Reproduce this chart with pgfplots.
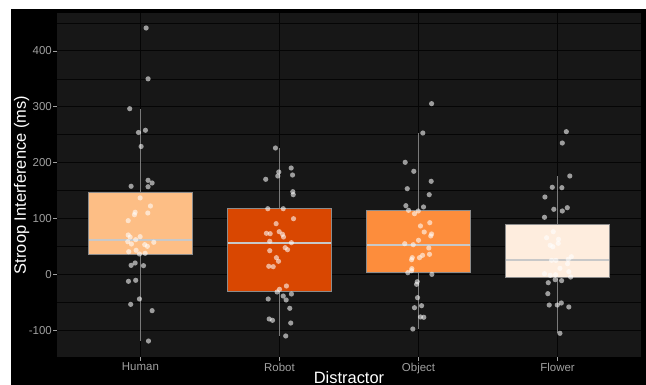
\documentclass[border=0pt]{standalone}
\usepackage{pgfplots}
\pgfplotsset{compat=1.18}
\usepackage{fontspec}
\setmainfont{Liberation Sans}

\definecolor{panelbg}{HTML}{171717}
\definecolor{gridcol}{HTML}{050505}
\definecolor{oHuman}{HTML}{FDBE85}
\definecolor{oRobot}{HTML}{D94701}
\definecolor{oObject}{HTML}{FD8D3C}
\definecolor{oFlower}{HTML}{FEEDDE}
\definecolor{ticktxt}{HTML}{A0A0A0}
\definecolor{boxline}{HTML}{8C8C8C}
\definecolor{medline}{HTML}{C8C8C8}
\definecolor{whisk}{HTML}{7A7A7A}

% jittered observations, one table per distractor
\pgfplotstableread{
x y
1.041 441
1.055 350
0.923 296.6
1.036 258
0.986 254
1.005 229
1.055 168.5
1.084 163.7
0.933 157.8
1.055 157
0.998 137
1.072 122.5
0.962 111.3
0.957 107
1.053 110
0.912 96.3
0.912 70.7
0.926 67
0.998 67.7
0.909 58.7
0.935 54.6
0.966 62.3
1.031 53.4
1.050 50.4
1.096 57.6
0.916 40.8
0.969 43.3
0.993 36.7
1.034 37.9
0.962 20.6
0.933 16.4
1.022 15.8
0.914 -12.2
0.966 -10.4
0.993 -43.8
0.930 -53.4
1.084 -64.7
1.058 -119
}\humanpts
\pgfplotstableread{
x y
1.971 226.3
2.084 190.5
1.995 183.4
1.988 176.2
2.094 178
1.901 170.3
2.096 148.1
2.099 142.8
1.916 117.7
2.027 117.7
2.101 99.8
1.976 90.9
1.906 73.7
1.933 73
1.998 76.6
2.022 71.9
2.029 67.1
1.930 59.4
2.086 56.9
1.930 42.6
2.041 48
2.058 44.4
1.978 30.1
1.993 23.6
1.923 14.7
1.955 14
2.050 -20.6
2.000 -26.5
1.983 -31.3
2.086 -34.9
2.027 -38.5
2.048 -45.6
1.919 -43.8
2.074 -60.5
1.926 -79.6
1.950 -82
2.081 -86.8
2.045 -110
}\robotpts
\pgfplotstableread{
x y
3.094 305.6
3.031 253.1
2.904 200.7
2.966 184.6
3.091 166.7
2.919 153.5
3.077 142.8
2.909 123.1
3.036 120.8
2.928 114.8
2.998 113.6
2.971 108.8
3.081 92.7
3.014 86.8
3.041 76
3.094 72.5
3.088 68.9
3.000 61.2
2.901 55.1
2.962 53.3
3.074 47.4
3.029 34.3
3.007 30.1
2.955 30.1
2.950 26.5
3.079 36.1
2.952 10.4
2.950 6.8
2.923 3.2
3.096 0.3
2.991 -12.9
2.986 -17.6
2.993 -41.5
3.022 -55.8
2.971 -59.4
3.014 -76
3.038 -76.6
2.959 -97.5
}\objectpts
\pgfplotstableread{
x y
4.063 255.5
4.034 235.2
4.088 176.2
3.962 156
4.031 155.3
3.909 138.6
3.973 116.6
4.070 119.5
4.034 113.6
3.906 102.3
3.969 76.6
3.921 65.8
4.007 63
4.005 55.8
3.947 52.2
3.966 49.7
3.957 25.3
3.988 25.3
4.099 31.8
4.077 27.2
4.072 19.3
4.017 11
4.081 5
3.906 1.4
3.947 -1.4
3.986 -0.4
4.094 -4.5
3.983 -9.3
4.029 -11
3.933 -14.7
3.930 -34.3
3.940 -54.6
3.998 -54.6
4.027 -51
4.081 -58.1
4.017 -105.2
}\flowerpts

\pgfplotsset{
  jitterpts/.style={only marks, mark=*, mark size=2.6bp,
    mark options={line width=0pt, draw opacity=0, fill=white, fill opacity=0.58}},
  boxbody/.style={draw=boxline, line width=0.9bp, mark=none},
  whiskerline/.style={draw=whisk, line width=0.9bp, mark=none},
  medianline/.style={draw=medline, line width=1.4bp, mark=none},
}

\begin{document}
\begin{tikzpicture}
\fill[white] (-57bp,-28bp) rectangle (589bp,357bp);
\fill[black] (-46bp,-28bp) rectangle (589bp,348bp);
\useasboundingbox (-57bp,-28bp) rectangle (589bp,357bp);
\begin{axis}[
  at={(0,0)}, anchor=south west,
  scale only axis, width=584bp, height=344bp,
  xmin=0.4, xmax=4.6, ymin=-147.6, ymax=467.8,
  axis background/.style={fill=panelbg},
  axis line style={draw=none},
  xtick={1,2,3,4}, xticklabels={Human,Robot,Object,Flower},
  ytick={-100,0,100,200,300,400}, yticklabels={-100,0,100,200,300,400},
  minor ytick={-50,50,150,250,350,450},
  grid=both,
  major grid style={draw=gridcol, line width=0.9bp},
  minor grid style={draw=gridcol, line width=0.5bp},
  tick align=outside, major tick length=3.5bp,
  minor tick style={draw=none},
  major tick style={draw=ticktxt, line width=0.6bp},
  xtick pos=bottom, ytick pos=left,
  ticklabel style={font=\fontsize{11.5}{13}\selectfont, text=ticktxt},
  yticklabel style={inner sep=1.5bp},
  xticklabel style={inner sep=2bp},
  xlabel={Distractor}, ylabel={Stroop Interference (ms)},
  xlabel style={at={(rel axis cs:0.5,0)}, anchor=base, yshift=-26bp,
    font=\fontsize{16.5}{19}\selectfont, text=white},
  ylabel style={at={(rel axis cs:-0.0531,0.5)}, anchor=base,
    font=\fontsize{16.5}{19}\selectfont, text=white},
]
% whiskers (box edge to extreme non-outlying value)
\addplot[whiskerline] coordinates {(1,147) (1,296.6)};
\addplot[whiskerline] coordinates {(1,36.7) (1,-119)};
\addplot[whiskerline] coordinates {(2,117.7) (2,225.8)};
\addplot[whiskerline] coordinates {(2,-29.5) (2,-109.5)};
\addplot[whiskerline] coordinates {(3,114.2) (3,252.6)};
\addplot[whiskerline] coordinates {(3,3.2) (3,-97.5)};
\addplot[whiskerline] coordinates {(4,89.2) (4,175.6)};
\addplot[whiskerline] coordinates {(4,-5) (4,-105.2)};
% interquartile boxes
\addplot[boxbody, fill=oHuman] coordinates {(0.625,36.7) (1.375,36.7) (1.375,147) (0.625,147)} -- cycle;
\addplot[boxbody, fill=oRobot] coordinates {(1.625,-29.5) (2.375,-29.5) (2.375,117.7) (1.625,117.7)} -- cycle;
\addplot[boxbody, fill=oObject] coordinates {(2.625,3.2) (3.375,3.2) (3.375,114.2) (2.625,114.2)} -- cycle;
\addplot[boxbody, fill=oFlower] coordinates {(3.625,-5) (4.375,-5) (4.375,89.2) (3.625,89.2)} -- cycle;
% medians
\addplot[medianline] coordinates {(0.631,61.7) (1.369,61.7)};
\addplot[medianline] coordinates {(1.631,56.4) (2.369,56.4)};
\addplot[medianline] coordinates {(2.631,52.8) (3.369,52.8)};
\addplot[medianline] coordinates {(3.631,26) (4.369,26)};
% jittered observations
\addplot[jitterpts] table {\humanpts};
\addplot[jitterpts] table {\robotpts};
\addplot[jitterpts] table {\objectpts};
\addplot[jitterpts] table {\flowerpts};
\end{axis}
\end{tikzpicture}
\end{document}
